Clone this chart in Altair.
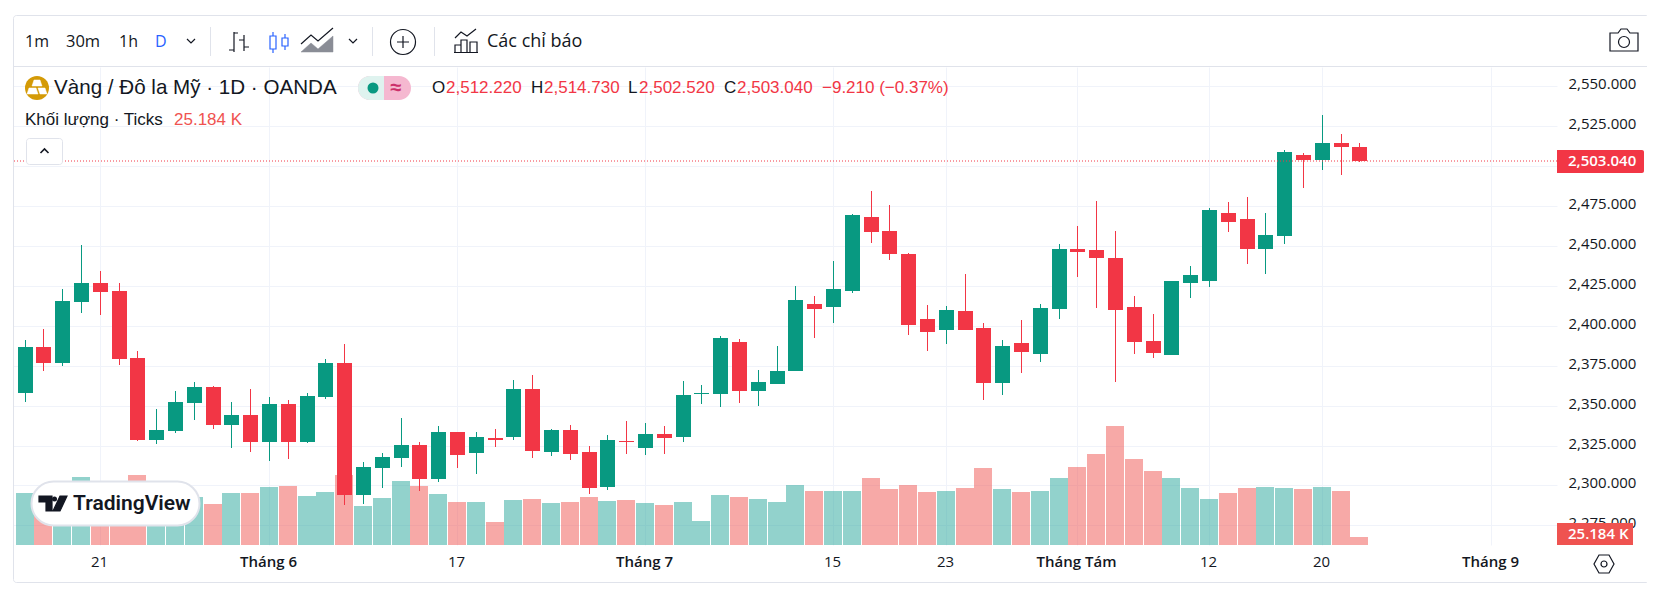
import re
import altair as alt
import pandas as pd

# ---------- data ----------
opens = [2357.9,2386.7,2376.7,2415.0,2426.9,2421.8,2379.9,2328.5,2334.1,2351.7,2361.7,2337.9,2344.1,2327.2,2351.0,2327.2,2355.4,2376.7,2294.0,2310.9,2317.2,2325.3,2304.0,2333.5,2320.3,2329.7,2330.3,2360.4,2320.9,2334.7,2320.9,2299.0,2328.0,2323.4,2332.2,2330.3,2357.0,2357.3,2389.9,2359.2,2363.6,2371.7,2413.7,2411.8,2421.8,2468.2,2459.4,2445.0,2404.3,2397.4,2409.3,2398.6,2364.2,2389.3,2382.4,2410.6,2448.1,2447.5,2442.5,2411.8,2390.5,2381.7,2426.8,2428.1,2470.7,2466.9,2448.1,2456.3,2507.1,2503.9,2514.6,2512.22]
closes = [2386.7,2376.7,2415.6,2426.9,2421.2,2379.2,2328.5,2334.7,2352.3,2361.7,2337.9,2344.1,2327.2,2351.0,2327.2,2356.0,2376.7,2294.0,2311.5,2317.8,2325.3,2304.0,2333.5,2319.1,2330.3,2328.5,2360.4,2321.6,2334.7,2319.7,2298.4,2328.5,2327.0,2332.2,2329.7,2356.7,2358.0,2392.4,2359.2,2364.8,2371.7,2416.2,2410.6,2423.1,2469.5,2458.8,2445.0,2400.5,2396.1,2409.9,2397.4,2364.2,2387.4,2383.6,2411.2,2448.1,2446.3,2442.5,2409.9,2389.9,2383.0,2428.1,2431.9,2472.6,2465.1,2448.1,2456.9,2508.9,2503.9,2514.6,2512.1,2503.04]
highs = [2391.1,2398.0,2423.1,2450.7,2434.4,2426.9,2384.2,2347.9,2359.2,2364.8,2362.3,2352.3,2360.4,2355.4,2353.5,2357.9,2379.2,2388.6,2314.7,2320.3,2342.2,2327.2,2337.2,2333.5,2333.5,2335.4,2366.1,2369.2,2335.4,2337.9,2324.7,2331.6,2340.4,2339.1,2337.2,2365.4,2362.9,2393.6,2391.8,2372.3,2387.4,2425.0,2418.7,2440.6,2470.1,2484.5,2475.7,2445.6,2413.1,2412.4,2432.5,2401.8,2391.1,2403.7,2413.7,2451.3,2462.6,2478.2,2459.4,2418.7,2407.4,2428.1,2437.5,2473.8,2477.6,2480.7,2470.7,2510.2,2508.3,2532.1,2520.2,2514.73]
lows = [2352.3,2371.7,2374.8,2408.1,2406.8,2375.5,2327.8,2326.0,2332.9,2341.0,2335.4,2323.4,2320.9,2315.3,2316.6,2326.6,2354.2,2287.7,2288.4,2298.4,2311.5,2296.5,2302.1,2310.9,2307.2,2324.1,2328.5,2317.2,2318.4,2315.9,2294.6,2297.1,2319.7,2319.1,2319.7,2327.2,2351.0,2349.1,2351.7,2349.8,2363.6,2371.7,2392.4,2401.8,2420.6,2451.9,2441.3,2394.3,2384.2,2388.6,2397.4,2353.5,2356.7,2370.4,2377.4,2404.3,2430.6,2411.2,2364.8,2382.3,2379.8,2381.7,2417.4,2424.3,2458.8,2438.8,2432.5,2451.3,2486.4,2497.7,2494.5,2502.52]
volumes = [163.7,152.0,163.0,214.1,142.0,157.0,220.4,161.0,154.0,151.1,129.1,163.7,163.7,182.6,185.7,154.3,166.8,220.4,122.8,148.0,201.5,185.7,160.5,135.4,135.4,72.4,141.7,144.8,132.2,135.4,151.1,138.5,141.7,132.2,125.9,135.4,75.6,157.4,151.1,144.8,135.4,188.9,170.0,170.0,170.0,210.9,176.3,188.9,166.8,170.0,179.4,242.4,176.3,166.8,170.0,210.9,245.5,286.5,374.6,270.7,233.0,210.9,179.4,144.8,163.7,179.4,182.6,179.4,176.3,182.6,170.0,25.184]
time_ticks = [4, 13, 23, 33, 43, 49, 56, 63, 69, 78]
time_labels = ["21", "Tháng 6", "17", "Tháng 7", "15", "23", "Tháng Tám", "12", "20", "Tháng 9"]
month_ticks = [13, 33, 56, 78]
price_ticks = [2550, 2525, 2500, 2475, 2450, 2425, 2400, 2375, 2350, 2325, 2300, 2275]

GREEN, RED = "#089981", "#f23645"
TEXT, GRID, LINE = "#131722", "#f0f3fa", "#e0e3eb"
UI = "Liberation Sans"
SCALE_FONT = "Open Sans"

rows = list(range(len(opens)))
df = pd.DataFrame({"i": rows, "o": opens, "c": closes, "h": highs, "l": lows, "v": volumes})
df["candle"] = [GREEN if c >= o else RED for o, c in zip(opens, closes)]
df["bar"] = ["#26a69a" if c >= o else "#ef5350" for o, c in zip(opens, closes)]

LEFT, TOP, W, H = 13, 67, 1544, 478
X_DOM = [-0.617, 81.51]
Y_DOM = [2262.65, 2562.2]
xs = alt.Scale(domain=X_DOM, round=True, nice=False, zero=False, padding=0)
ys = alt.Scale(domain=Y_DOM, round=True, nice=False, zero=False, padding=0)
vs = alt.Scale(domain=[0, 1504.7], nice=False, zero=False, padding=0)

label_map = "{" + ",".join(f'{t}:"{l}"' for t, l in zip(time_ticks, time_labels)) + "}"
month_test = "indexof(" + str(month_ticks) + ", datum.value) >= 0"

x_axis = alt.Axis(values=time_ticks, labelExpr=f"({label_map})[datum.value]", title=None, grid=True,
                  gridColor=GRID, ticks=False, domain=False, labelColor=TEXT, labelFont=SCALE_FONT, labelFontSize=15,
                  labelFontWeight={"expr": f"{month_test} ? 600 : 400"}, labelPadding=9, labelFlush=False,
                  labelOverlap=False, labelOffset=-1)
# the 2,500.000 label sits under the last-price badge in the reference, so it is left empty
y_axis = alt.Axis(values=price_ticks, orient="right", title=None, grid=True, gridColor=GRID,
                  labelExpr="datum.value == 2500 ? '' : format(datum.value, ',.3f')",
                  ticks=False, domain=False, labelColor=TEXT, labelFont=SCALE_FONT, labelFontSize=15,
                  labelPadding=11, labelOverlap=False, labelOffset=-2.5)

base = alt.Chart(df)
volume = base.mark_bar(size=18, orient="vertical", opacity=0.5).encode(
    x=alt.X("i:Q", scale=xs, axis=x_axis),
    y=alt.Y("v:Q", scale=vs, axis=None, stack=None),
    color=alt.Color("bar:N", scale=None),
)
wicks = base.mark_rule(strokeWidth=1, xOffset=0.5).encode(
    x=alt.X("i:Q", scale=xs, axis=x_axis),
    y=alt.Y("h:Q", scale=ys, axis=y_axis),
    y2="l:Q",
    color=alt.Color("candle:N", scale=None),
)
bodies = base.mark_bar(size=15, xOffset=0.5, orient="vertical").encode(
    x=alt.X("i:Q", scale=xs, axis=x_axis),
    y=alt.Y("o:Q", scale=ys, axis=None),
    y2="c:Q",
    color=alt.Color("candle:N", scale=None),
)
last_line = alt.Chart(df.tail(1)).mark_rule(color=RED, strokeWidth=1, strokeDash=[1, 2]).encode(
    y=alt.Y("c:Q", scale=ys, axis=None),
)

# ---------- chrome helpers: page pixel -> plot offset ----------
one = alt.Data(values=[{"a": 1}])

def px(x):
    return alt.value(x - LEFT)

def py(y):
    return alt.value(y - TOP)

def text(s, x, y, size=16, color=TEXT, weight=400, align="left", font=UI):
    return alt.Chart(one).mark_text(text=s, fontSize=size, color=color, fontWeight=weight, align=align,
                                    baseline="middle", font=font).encode(x=px(x), y=py(y))

def rect(x, x2, y, y2, **kw):
    return alt.Chart(one).mark_rect(**kw).encode(x=px(x), x2=px(x2), y=py(y), y2=py(y2))

def seg(x, x2, y, y2, color=LINE, width=1):
    return alt.Chart(one).mark_rule(color=color, strokeWidth=width).encode(x=px(x), x2=px(x2), y=py(y), y2=py(y2))

def icon(path, cx, cy, box=24, fill=None, stroke=TEXT, width=1.2, opacity=1):
    """path is written in pixels around the centre; Vega wants it in -1..1."""
    norm = re.sub(r"-?\d+(?:\.\d+)?", lambda m: f"{float(m.group()) / (box / 2):.4f}", path)
    kw = dict(shape=norm, size=box * box, opacity=opacity, strokeWidth=width)
    if fill:
        kw.update(filled=True, fill=fill, stroke=stroke if stroke else fill)
    else:
        kw.update(filled=False, stroke=stroke)
    return alt.Chart(one).mark_point(**kw).encode(x=px(cx), y=py(cy))

def disc(cx, cy, d, fill=None, stroke=None, width=1.2):
    kw = dict(shape="circle", size=d * d, opacity=1, strokeWidth=width)
    if fill:
        kw.update(filled=True, fill=fill, strokeWidth=0)
    else:
        kw.update(filled=False, stroke=stroke)
    return alt.Chart(one).mark_point(**kw).encode(x=px(cx), y=py(cy))

CHEV_D = "M-4 -2 L0 2 L4 -2"
CHEV_U = "M-4 2 L0 -2 L4 2"

chrome = [
    rect(13.5, 1649.5, 15.5, 582.5, filled=False, stroke=LINE, strokeWidth=1, cornerRadius=3),
    seg(13.5, 1649.5, 66.5, 66.5),
    # toolbar
    text("1m", 25, 42, font=SCALE_FONT), text("30m", 66, 42, font=SCALE_FONT, size=16.5), text("1h", 119, 42, font=SCALE_FONT),
    text("D", 155, 42, color="#2962ff", font=SCALE_FONT),
    icon(CHEV_D, 191, 41), seg(210.5, 210.5, 27, 56), icon(CHEV_D, 353, 41), seg(372.5, 372.5, 27, 56),
    seg(434.5, 434.5, 27, 56),
    icon("M-5 -10 L-5 10 M-5 8 L-10 8 M-5 -9 L-1 -9 M5 -7 L5 9 M5 -2 L0 -2 M5 5 L10 5", 239, 42),
    icon("M-6 -10 L-6 -6 M-6 7 L-6 11 M-9 -6 L-3 -6 L-3 7 L-9 7 Z M6 -8 L6 -4 M6 4 L6 8 M3 -4 L9 -4 L9 4 L3 4 Z", 279, 42, stroke="#2962ff"),
    icon("M-16 12 L-6 3 L1 9 L16 -4 L16 12 Z", 317, 40, box=34, fill="#8a8d96", stroke="#8a8d96", width=0.5),
    icon("M-16 4 L-6 -5 L1 1 L16 -12", 317, 40, box=34),
    disc(403, 42, 25, stroke=TEXT),
    icon("M-6 0 L6 0 M0 -6 L0 6", 403, 42),
    icon("M-11 -3 L-5 -9 L1 -5 L10 -12 M-11 11 L-11 4 L-5 4 L-5 11 M-5 11 L-5 -1 L1 -1 L1 11 M4 11 L4 1 L11 1 L11 11 M-12 11.5 L12 11.5", 466, 41),
    text("Các chỉ báo", 487, 42, size=18, font=SCALE_FONT),
    # camera
    icon("M-14 -7 L-6 -7 L-3 -11 L3 -11 L6 -7 L14 -7 L14 11 L-14 11 Z", 1624, 40, box=30),
    disc(1624, 42, 11, stroke=TEXT),
    # title row
    disc(37, 88, 24, fill="#d49a06"),
    icon("M-3 -8 L3 -8 L5 -2 L-5 -2 Z M-8 0 L-1 0 L1 6 L-10 6 Z M1 0 L8 0 L10 6 L3 6 Z", 37, 88, fill="#ffffff", stroke="#ffffff", width=0.5),
    text("Vàng / Đô la Mỹ · 1D · OANDA", 54, 88, size=20.6),
    rect(358, 411, 76, 100, fill="#f5b8d0", cornerRadius=12),
    rect(358, 384, 76, 100, fill="#dff3ef", cornerRadiusTopLeft=12, cornerRadiusBottomLeft=12),
    disc(373, 88, 11, fill=GREEN),
    text("≈", 396, 88, size=20, color="#cc2f6a", weight=700, align="center"),
    text("O", 432, 88, size=17), text("2,512.220", 446, 88, size=17, color=RED),
    text("H", 531, 88, size=17), text("2,514.730", 544, 88, size=17, color=RED),
    text("L", 628, 88, size=17), text("2,502.520", 639, 88, size=17, color=RED),
    text("C", 724, 88, size=17), text("2,503.040", 737, 88, size=17, color=RED),
    text("−9.210 (−0.37%)", 822, 88, size=17, color=RED),
    text("Khối lượng · Ticks", 25, 120, size=17),
    text("25.184 K", 174, 120, size=17, color="#ef5350"),
    rect(26.5, 62.5, 138.5, 164.5, fill="#ffffff", stroke=LINE, strokeWidth=1, cornerRadius=3),
    icon(CHEV_U, 44.5, 151, width=1.6),
    # TradingView logo
    rect(31.5, 199.5, 481.5, 525.5, fill="#ffffff", stroke=LINE, strokeWidth=2, cornerRadius=22),
    icon("M-14 -7.5 L-1 -7.5 L-1 7.5 L-7 7.5 L-7 -1.5 L-14 -1.5 Z M7 -7.5 L14 -7.5 L7 7.5 L0 7.5 Z", 53, 503.5, box=30, fill=TEXT),
    disc(54.5, 499, 5, fill=TEXT),
    text("TradingView", 73, 504, size=21, weight=600, font="Roboto"),
    # price badges
    rect(1557, 1644, 150, 173, fill=RED, cornerRadiusTopRight=2, cornerRadiusBottomRight=2),
    text("2,503.040", 1568, 161, size=15, color="#ffffff", weight=600, font=SCALE_FONT),
    rect(1557, 1633, 523, 545, fill="#ef5350"),
    text("25.184 K", 1568, 534, size=15, color="#ffffff", weight=600, font=SCALE_FONT),
    # settings
    icon("M-5 -9 L5 -9 L10 0 L5 9 L-5 9 L-10 0 Z", 1604, 564, width=1.2),
    disc(1604, 564, 6, stroke=TEXT),
]

chart = alt.layer(volume, wicks, bodies, last_line, *chrome).resolve_scale(y="independent").properties(
    width=W, height=H,
    padding={"left": LEFT - 8, "top": TOP - 8, "right": 90, "bottom": 38},
    autosize=alt.AutoSizeParams(type="none"),
).configure_view(stroke=None)

chart.save("out.html", embed_options={"renderer": "svg", "actions": False})
